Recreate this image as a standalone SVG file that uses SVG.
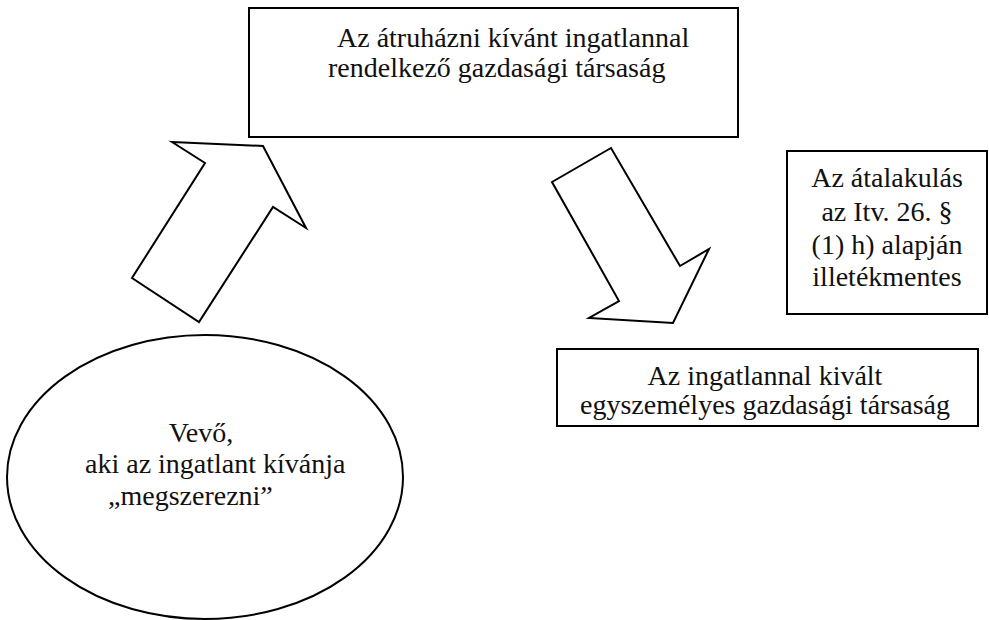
<svg xmlns="http://www.w3.org/2000/svg" width="989" height="620" viewBox="0 0 989 620">
  <style>
    .shape { fill: #ffffff; stroke: #000000; stroke-width: 2; stroke-linejoin: miter; }
    text { font-family: 'Liberation Serif', 'DejaVu Serif', 'Times New Roman', serif; font-size: 28px; fill: #111111; }
    .mid { text-anchor: middle; }
  </style>
  <rect width="989" height="620" fill="#ffffff"/>

  <!-- block arrows -->
  <g id="connectors">
    <polygon id="arrow-up" class="shape" points="172,142 263,146 306,228 273,207 199,322 132,278 205,163"/>
    <polygon id="arrow-down" class="shape" points="552,182 611,148 680,266 709,249 673,323 589,318 619,301"/>
  </g>

  <g id="company">
    <rect class="shape" x="249" y="8" width="489" height="129"/>
    <text x="337" y="47">Az átruházni kívánt ingatlannal</text>
    <text x="328" y="77">rendelkező gazdasági társaság</text>
  </g>

  <g id="note">
    <rect class="shape" x="787" y="151" width="200" height="163"/>
    <text class="mid" x="887" y="187">Az átalakulás</text>
    <text class="mid" x="887" y="221">az Itv. 26. §</text>
    <text class="mid" x="887" y="254">(1) h) alapján</text>
    <text class="mid" x="887" y="286">illetékmentes</text>
  </g>

  <g id="spinoff">
    <rect class="shape" x="557" y="349" width="421" height="77"/>
    <text class="mid" x="765" y="385">Az ingatlannal kivált</text>
    <text class="mid" x="765" y="414">egyszemélyes gazdasági társaság</text>
  </g>

  <g id="buyer">
    <ellipse class="shape" cx="205" cy="477" rx="198" ry="142"/>
    <text class="mid" x="201" y="442">Vevő,</text>
    <text x="85" y="473">aki az ingatlant kívánja</text>
    <text x="108" y="505">„megszerezni”</text>
  </g>
</svg>
